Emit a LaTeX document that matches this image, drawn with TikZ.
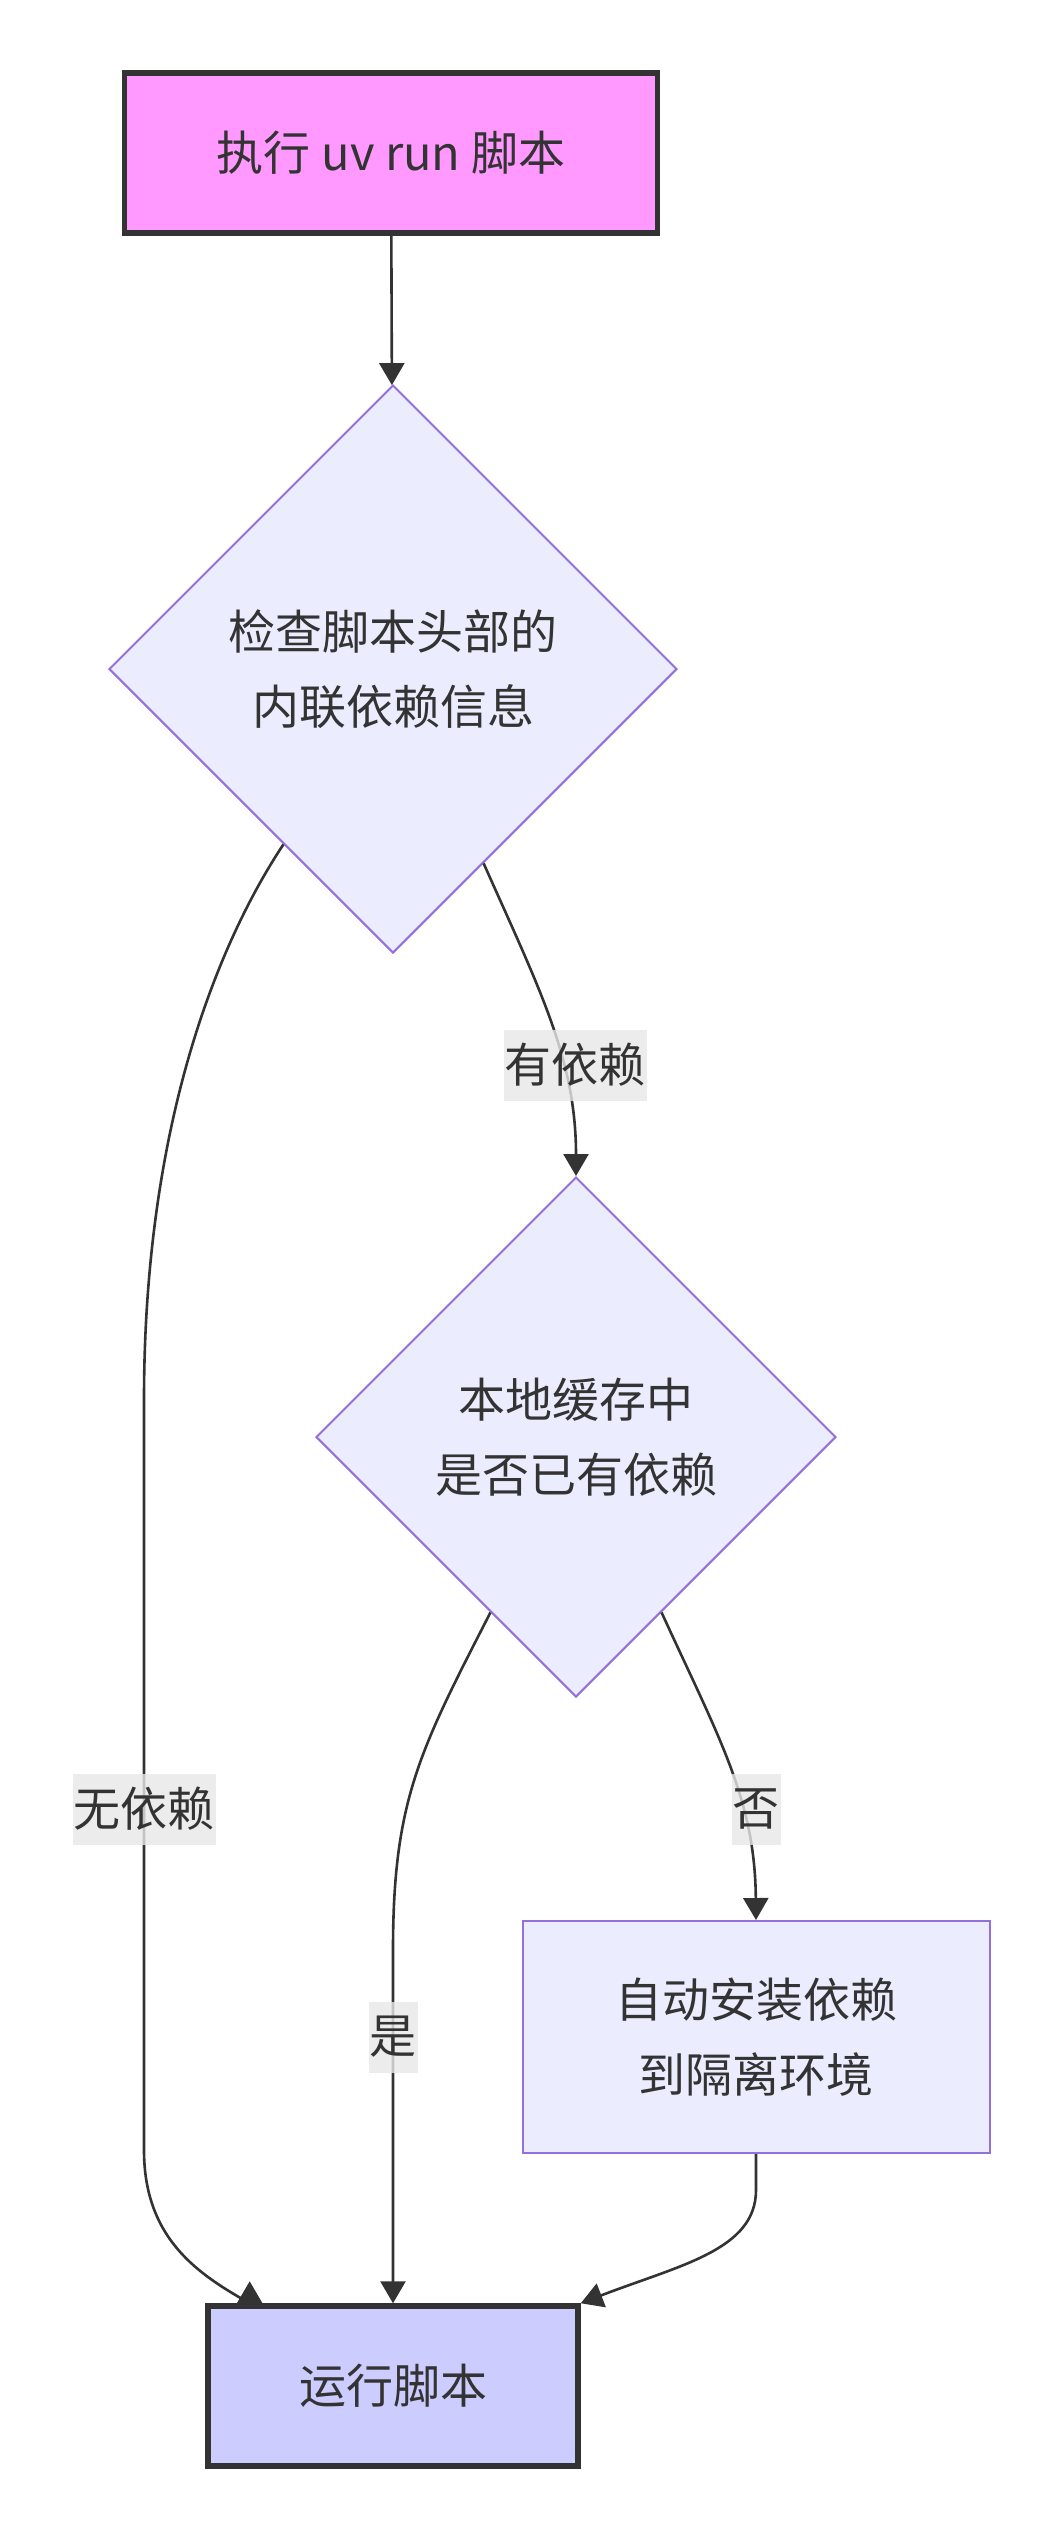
\documentclass[tikz,border=0pt]{standalone}
\usepackage{fontspec}
\setmainfont{Noto Sans CJK SC}
\usetikzlibrary{shapes.geometric,arrows.meta}
\definecolor{ink}{HTML}{333333}
\definecolor{pinkfill}{HTML}{FF99FF}
\definecolor{bluefill}{HTML}{CCCCFF}
\definecolor{nodefill}{HTML}{ECECFF}
\definecolor{nodeline}{HTML}{9370DB}
\definecolor{labelfill}{HTML}{E8E8E8}

\begin{document}
\begin{tikzpicture}[x=1pt,y=-1pt,line width=2pt,
	every node/.style={text=ink,font=\fontsize{47}{75}\selectfont,align=center},
	term/.style={draw=ink,line width=5.5pt,inner sep=0pt},
	proc/.style={draw=nodeline,fill=nodefill,inner sep=0pt},
	decide/.style={diamond,aspect=1,draw=nodeline,fill=nodefill,inner sep=0pt},
	lbl/.style={fill=labelfill,fill opacity=0.8,text opacity=1,inner xsep=1pt,inner ysep=0pt,minimum height=71pt},
	link/.style={draw=ink,line width=2.6pt,-{Triangle[length=22pt,width=25pt]}}]
\path[fill=white] (0,0) rectangle (1062,2538);
\useasboundingbox (0,0) rectangle (1062,2538);

\node[term,fill=pinkfill,minimum width=533pt,minimum height=160pt] (start) at (391,153) {执行 uv run 脚本};
\node[decide,minimum width=568pt,minimum height=568pt] (chk) at (393,669) {检查脚本头部的\\内联依赖信息};
\node[decide,minimum width=520pt,minimum height=520pt] (cache) at (576,1437) {本地缓存中\\是否已有依赖};
\node[proc,minimum width=467pt,minimum height=232pt] (inst) at (756,2037) {自动安装依赖\\到隔离环境};
\node[term,fill=bluefill,minimum width=370pt,minimum height=160pt] (run) at (393,2386) {运行脚本};

\draw[link] (start) -- (chk);
\draw[link] (chk.295) .. controls (540,990) and (576,1060) .. (cache.north);
\draw[link] (chk.238) .. controls (220,940) and (144,1120) .. (144,1400) -- (144,2150) .. controls (144,2240) and (200,2275) .. (run.150) -- ++(0,-22);
\draw[link] (cache.244) .. controls (420,1750) and (393,1800) .. (393,1950) -- (run.north);
\draw[link] (cache.296) .. controls (720,1740) and (755,1800) .. (inst.north);
\draw[link] (inst.south) -- ++(0,36) .. controls +(0,60) and (680,2265) .. (run.north east);

\node[lbl] (l1) at (575,1065) {有依赖};
\node[lbl] (l2) at (144,1809) {无依赖};
\node[lbl] (l3) at (756,1809) {否};
\node[lbl] (l4) at (393,2037) {是};

\end{tikzpicture}
\end{document}
